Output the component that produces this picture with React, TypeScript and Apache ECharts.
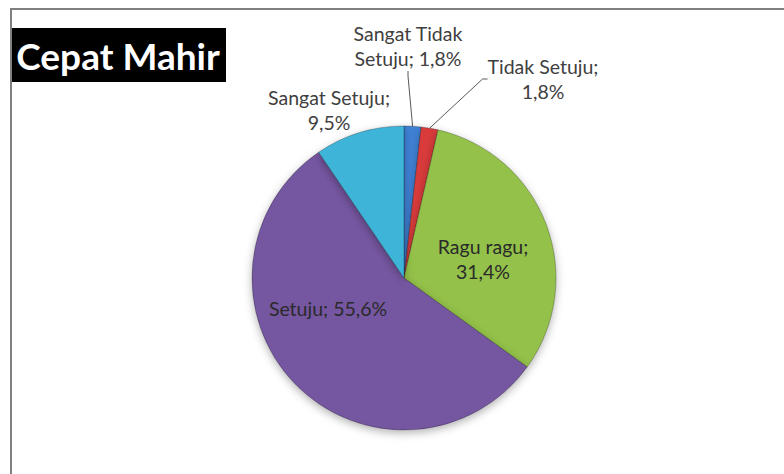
import React, { useEffect, useRef } from "react";
import * as echarts from "echarts";

const titleText = "Cepat Mahir";
const categories = ["Sangat Tidak Setuju", "Tidak Setuju", "Ragu ragu", "Setuju", "Sangat Setuju"];
const values = [1.8, 1.8, 31.4, 55.6, 9.5];
const labelTexts = ["Sangat Tidak\nSetuju; 1,8%", "Tidak Setuju;\n1,8%", "Ragu ragu;\n31,4%", "Setuju; 55,6%", "Sangat Setuju;\n9,5%"];
const colors = ["#3F82D6", "#D93B3B", "#93C148", "#7457A0", "#3DB4D8"];
const labelPos: [number, number][] = [[408, 46], [543, 79], [483, 259], [328, 308], [329, 110]];
const showLine = [true, true, false, false, false];

export default function App() {
  const ref = useRef<HTMLDivElement>(null);
  useEffect(() => {
    const chart = echarts.init(ref.current!, null, { renderer: "svg" });
    const font = "Lato, 'Open Sans', sans-serif";
    chart.setOption({
      animation: false,
      backgroundColor: "#ffffff",
      graphic: [
        { type: "line", shape: { x1: 10, y1: 9, x2: 784, y2: 9 }, style: { stroke: "#808080", lineWidth: 2 } },
        { type: "line", shape: { x1: 11, y1: 8, x2: 11, y2: 474 }, style: { stroke: "#808080", lineWidth: 2 } },
        { type: "rect", shape: { x: 12, y: 28, width: 214, height: 54 }, style: { fill: "#000000" } },
        {
          type: "text",
          x: 118,
          y: 55,
          style: {
            text: titleText,
            fill: "#ffffff",
            font: "bold 37px " + font,
            align: "center",
            verticalAlign: "middle",
          },
        },
      ],
      series: [
        {
          type: "pie",
          center: [404, 278],
          radius: 152,
          startAngle: 90,
          clockwise: true,
          avoidLabelOverlap: false,
          itemStyle: {
            borderColor: "rgba(0,0,0,0.25)",
            borderWidth: 1,
            shadowBlur: 8,
            shadowColor: "rgba(0,0,0,0.3)",
            shadowOffsetY: 3,
          },
          label: {
            fontFamily: font,
            fontSize: 19.5,
            color: "#404040",
            lineHeight: 25,
            align: "center",
          },
          labelLayout: (p: any) => {
            const pos = labelPos[p.dataIndex];
            return { x: pos[0], y: pos[1], align: "center", verticalAlign: "middle" };
          },
          data: categories.map((c, i) => ({
            name: c,
            value: values[i],
            itemStyle: { color: colors[i] },
            label: {
              show: true,
              formatter: labelTexts[i],
              position: i === 2 || i === 3 ? "inside" : "outside",
              color: i === 2 || i === 3 ? "#2a2a2a" : "#404040",
            },
            labelLine: { show: showLine[i], lineStyle: { color: "#595959", width: 1 }, length: 10, length2: 5 },
          })),
        },
      ],
    });
    return () => chart.dispose();
  }, []);
  return <div ref={ref} style={{ position: "absolute", left: 0, top: 0, width: 784, height: 474 }} />;
}
